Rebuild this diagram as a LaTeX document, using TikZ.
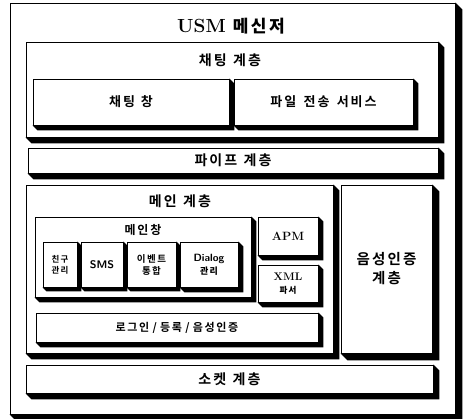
\documentclass[tikz,border=0pt]{standalone}
\usepackage{fontspec}
\newfontfamily\korfont{Noto Sans CJK KR Bold}[LetterSpace=15, WordSpace=1.5]
\newcommand{\kor}[1]{{\korfont #1}}
\newcommand{\gap}{\hspace{0.45em}}
\newcommand{\sgap}{\hspace{0.3em}}
\usetikzlibrary{calc}
\tikzset{
  bx/.style={draw, fill=white, line width=0.9pt, inner sep=0pt, align=center, font=\korfont\fontsize{13}{15}\selectfont},
  lbl/.style={inner sep=0pt, align=center, font=\korfont\fontsize{14}{16}\selectfont},
}
\begin{document}
\begin{tikzpicture}[x=1pt,y=-1pt]
\useasboundingbox (0,0) rectangle (465,418);
% outer
\node[bx, minimum width=445pt, minimum height=411pt] (outer) at (232.5,208.5) {};
\node[lbl, font=\fontsize{19}{22}\selectfont\bfseries] (title) at (231,26) {USM\hspace{7pt}\kor{\fontsize{17}{20}\selectfont 메신저}};
% chat layer
\node[bx, minimum width=412pt, minimum height=95pt] (chat) at (232,89.5) {};
\node[lbl] (chatlbl) at (230,60) {채팅\gap{}계층};
\node[bx, minimum width=196pt, minimum height=46pt] (chatwin) at (131,102) {채팅\gap{}창};
\node[bx, minimum width=179pt, minimum height=46pt] (file) at (323.5,102) {파일 전송 서비스};
% pipe
\node[bx, minimum width=410pt, minimum height=25pt, font=\korfont\fontsize{14}{16}\selectfont] (pipe) at (233,160.5) {파이프\gap{}계층};
% main layer
\node[bx, minimum width=307pt, minimum height=168pt] (main) at (179.5,269) {};
\node[lbl] (mainlbl) at (180,201) {메인\gap{}계층};
\node[bx, minimum width=91pt, minimum height=168pt, font=\korfont\fontsize{14.5}{19}\selectfont] (voice) at (386.5,269) {음성인증\\계층};
% main window
\node[bx, minimum width=216pt, minimum height=80pt] (mainwin) at (143,257) {};
\node[lbl, font=\korfont\fontsize{12}{14}\selectfont] (mainwinlbl) at (143,230) {메인창};
\node[bx, minimum width=34pt, minimum height=45pt, font=\korfont\fontsize{8.5}{11}\selectfont] (friend) at (60,264.5) {친구\\관리};
\node[bx, minimum width=42pt, minimum height=45pt, font=\sffamily\bfseries\fontsize{11}{13}\selectfont] (sms) at (102,264.5) {SMS};
\node[bx, minimum width=49pt, minimum height=45pt, font=\korfont\fontsize{9.5}{12}\selectfont] (event) at (151.5,264.5) {이벤트\\통합};
\node[bx, minimum width=58pt, minimum height=45pt, font=\sffamily\bfseries\fontsize{10.5}{13}\selectfont] (dialog) at (209,264.5) {\addfontfeature{LetterSpace=10}Dialog\\\kor{\fontsize{9}{11}\selectfont 관리}};
% APM, XML
\node[bx, minimum width=60pt, minimum height=38pt, font=\bfseries\fontsize{12}{14}\selectfont] (apm) at (288,236) {APM};
\node[bx, minimum width=60pt, minimum height=37pt, font=\bfseries\fontsize{11}{13}\selectfont] (xml) at (288,283.5) {\addfontfeature{LetterSpace=8}XML\\\kor{\fontsize{8.5}{11}\selectfont 파서}};
% login
\node[bx, minimum width=282pt, minimum height=29pt, font=\korfont\fontsize{11}{13}\selectfont] (login) at (177,327.5) {로그인\sgap{}/\sgap{}등록\sgap{}/\sgap{}음성인증};
% socket
\node[bx, minimum width=407pt, minimum height=28pt, font=\korfont\fontsize{14}{16}\selectfont] (socket) at (229.5,379) {소켓\gap{}계층};
% shadows
\foreach \n/\d in {outer/7, chat/6, chatwin/5, file/5, pipe/6, main/6, voice/7, mainwin/5, friend/4, sms/4, event/4, dialog/5, apm/5, xml/5, login/5, socket/6}{
  \fill[black] (\n.north east) -- ++(\d pt,-\d pt) -- ([shift={(\d pt,-\d pt)}]\n.south east)
    -- ([shift={(\d pt,-\d pt)}]\n.south west) -- (\n.south west) -- (\n.south east) -- cycle;
}
\end{tikzpicture}
\end{document}
